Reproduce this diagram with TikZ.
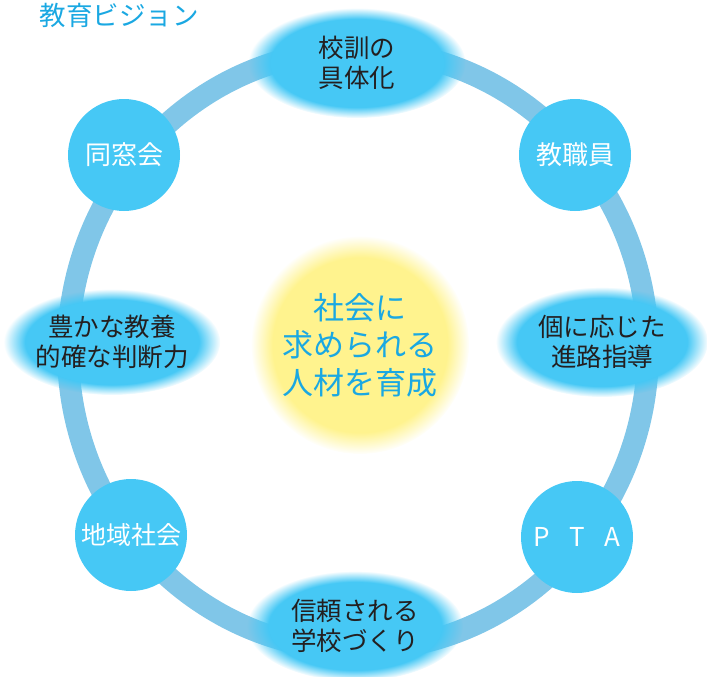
\documentclass[tikz,border=0pt]{standalone}
\usepackage{fontspec}
\setmainfont{Noto Sans CJK JP}
\usepackage{tikz}
\usetikzlibrary{shapes.geometric,fadings}
\definecolor{ringblue}{HTML}{80C6E8}
\definecolor{skyblue}{HTML}{46C8F5}
\definecolor{titleblue}{HTML}{1AA8E2}
\definecolor{inkgray}{HTML}{231F20}
\definecolor{paleyellow}{HTML}{FFF38E}

\begin{document}
\begin{tikzpicture}[x=1pt,y=-1pt,
        oval/.style={ellipse, fill=skyblue, path fading=circle with fuzzy edge 20 percent,
                     inner sep=0pt, text=inkgray, align=center,
                     font=\fontsize{25.5}{30}\selectfont},
        member/.style={circle, fill=skyblue, minimum size=112pt, inner sep=0pt,
                       text=white, font=\fontsize{26}{30}\selectfont}]
            \useasboundingbox (0,0) rectangle (707,677);
            \node [anchor=west, text=titleblue, font=\fontsize{26.5}{30}\selectfont] (title) at (36,15) {教育ビジョン};
            % ring
            \draw [ringblue, line width=22pt] (358,350) ellipse [x radius=290, y radius=300];
            % centre
            \node [circle, minimum size=218pt, fill=paleyellow, path fading=circle with fuzzy edge 20 percent,
                   text=titleblue, align=center, font=\fontsize{31}{37.5}\selectfont] (goal) at (360,345)
                  {社会に\\求められる\\人材を育成};
            % ovals
            \node [oval, minimum width=217pt, minimum height=110pt] (motto)  at (357,63)  {校訓の\\具体化};
            \node [oval, minimum width=212pt, minimum height=110pt] (career) at (602,342) {個に応じた\\進路指導};
            \node [oval, minimum width=216pt, minimum height=110pt] (trust)  at (355,626) {信頼される\\学校づくり};
            \node [oval, minimum width=212pt, minimum height=106pt] (mind)   at (112,342) {豊かな教養\\的確な判断力};
            % circles
            \node [member] (alumni) at (124,155) {同窓会};
            \node [member] (staff)  at (575,155) {教職員};
            \node [member, font=\fontsize{25}{30}\selectfont] (region) at (131,535) {地域社会};
            \node [member] (pta)    at (577,537) {P\hspace{0.75em}T\hspace{0.75em}A};
        \end{tikzpicture}
\end{document}
